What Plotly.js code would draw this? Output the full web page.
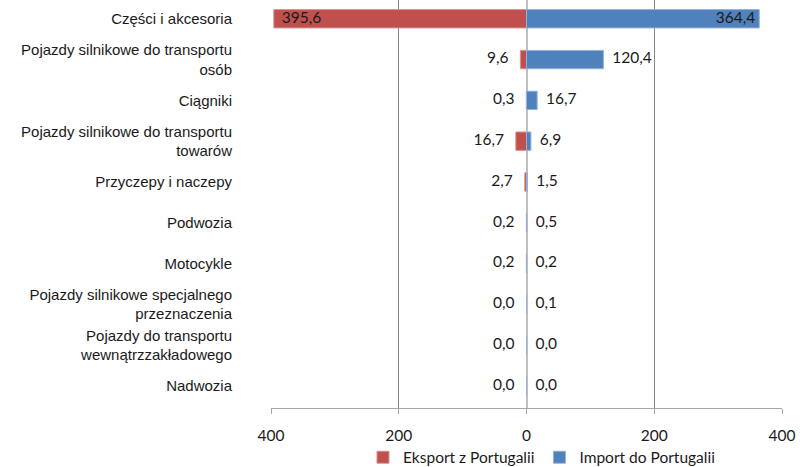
<!DOCTYPE html>
<html><head><meta charset="utf-8">
<script src="https://cdn.plot.ly/plotly-3.0.1.min.js"></script>
<style>html,body{margin:0;padding:0;background:#fff}#c{width:802px;height:467px}</style>
</head><body><div id="c"></div>
<script>
const categories = ['Części i akcesoria', 'Pojazdy silnikowe do transportu<br>osób', 'Ciągniki', 'Pojazdy silnikowe do transportu<br>towarów', 'Przyczepy i naczepy', 'Podwozia', 'Motocykle', 'Pojazdy silnikowe specjalnego<br>przeznaczenia', 'Pojazdy do transportu<br>wewnątrzzakładowego', 'Nadwozia'];
const exportValues = [395.6, 9.6, 0.3, 16.7, 2.7, 0.2, 0.2, 0.0, 0.0, 0.0];
const importValues = [364.4, 120.4, 16.7, 6.9, 1.5, 0.5, 0.2, 0.1, 0.0, 0.0];
const xTickVals = [-400, -200, 0, 200, 400];
const xTickText = ['400', '200', '0', '200', '400'];

const idx = categories.map((_, i) => i);
const fmt = v => v.toFixed(1).replace('.', ',');
const nb = '\u00a0';
const RED = '#C0504D', BLUE = '#4F81BD';
const numFont = {family: 'Lato, "Open Sans", sans-serif', size: 15.5, color: '#1a1a1a'};

const traces = [
  {type: 'bar', orientation: 'h', name: 'Eksport z Portugalii', x: exportValues.map(v => -v), y: idx,
   marker: {color: RED, line: {color: '#d9918f', width: 1}}, hoverinfo: 'skip'},
  {type: 'bar', orientation: 'h', name: 'Import do Portugalii', x: importValues, y: idx,
   marker: {color: BLUE, line: {color: '#95b3d7', width: 1}}, hoverinfo: 'skip'},
  {type: 'scatter', mode: 'text', x: exportValues.map(v => -v), y: idx, showlegend: false, hoverinfo: 'skip',
   text: exportValues.map((v, i) => i === 0 ? nb + nb + fmt(v) : fmt(v) + nb + nb + nb),
   textposition: exportValues.map((v, i) => i === 0 ? 'middle right' : 'middle left'),
   textfont: numFont, cliponaxis: false},
  {type: 'scatter', mode: 'text', x: importValues, y: idx, showlegend: false, hoverinfo: 'skip',
   text: importValues.map((v, i) => i === 0 ? fmt(v) + nb : nb + nb + '\u200a' + fmt(v)),
   textposition: importValues.map((v, i) => i === 0 ? 'middle left' : 'middle right'),
   textfont: numFont, cliponaxis: false}
];

const layout = {
  width: 802, height: 467,
  margin: {l: 271, r: 20, t: 0, b: 59},
  paper_bgcolor: '#fff', plot_bgcolor: '#fff',
  barmode: 'relative', bargap: 0.55,
  showlegend: true,
  legend: {orientation: 'h', x: 0.18, xanchor: 'left', yref: 'container', y: 0.02, yanchor: 'middle',
           font: {family: 'Lato, "Open Sans", sans-serif', size: 15.5, color: '#1a1a1a'}, itemwidth: 30, traceorder: 'normal'},
  xaxis: {range: [-400, 400], tickvals: xTickVals, ticktext: xTickText, showgrid: true, gridcolor: '#868686', gridwidth: 1,
          zeroline: true, zerolinecolor: '#c0c0c0', zerolinewidth: 2,
          showline: true, linecolor: '#a6a6a6', ticks: 'outside', ticklen: 5, tickcolor: '#a6a6a6', ticklabelstandoff: 8,
          tickfont: {family: 'Lato, "Open Sans", sans-serif', size: 15.5, color: '#1a1a1a'}, fixedrange: true},
  yaxis: {range: [9.54, -0.46], tickvals: idx, ticktext: categories, showgrid: false, zeroline: false, showline: false,
          ticks: '', ticklabelstandoff: 38,
          tickfont: {family: '"Liberation Sans", Arial, sans-serif', size: 15, color: '#1a1a1a'}, fixedrange: true}
};

Plotly.newPlot('c', traces, layout, {displayModeBar: false, staticPlot: true});
</script></body></html>
